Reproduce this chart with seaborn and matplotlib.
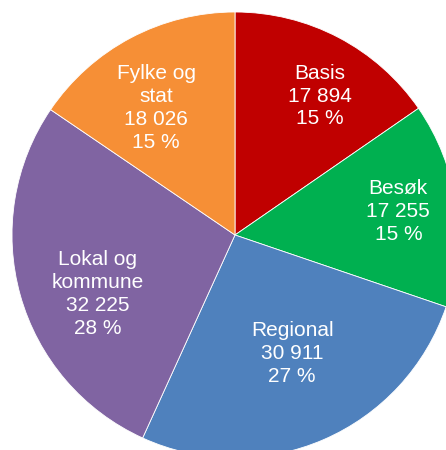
import matplotlib
matplotlib.use('Agg')
import matplotlib.pyplot as plt
import seaborn as sns
import numpy as np

sns.set_theme(style='white')
plt.rcParams['font.family'] = ['Liberation Sans', 'DejaVu Sans']

categories = ['Basis', 'Besøk', 'Regional', 'Lokal og\nkommune', 'Fylke og\nstat']
values = [17894, 17255, 30911, 32225, 18026]
colors = ['#C00000', '#00B050', '#4F81BD', '#8064A2', '#F68F36']
# label placement: distance from centre and angle shift from the wedge middle
label_radius = [0.73, 0.74, 0.59, 0.67, 0.67]
label_shift = [-3.8, 0.3, 2.4, 7.6, 3.9]

fig = plt.figure(figsize=(4.46, 4.5), dpi=100)
ax = fig.add_axes([0, 0, 1, 1])

r = 223
wedges, _ = ax.pie(values, colors=colors, startangle=90, counterclock=False,
                   radius=1, wedgeprops=dict(edgecolor='white', linewidth=0.6))

total = sum(values)
for w, cat, v, lr, sh in zip(wedges, categories, values, label_radius, label_shift):
    ang = np.deg2rad((w.theta1 + w.theta2) / 2 + sh)
    txt = f"{cat}\n{v:,}".replace(',', ' ') + f"\n{round(v / total * 100)} %"
    ax.text(lr * np.cos(ang), lr * np.sin(ang), txt, ha='center', va='center',
            color='white', fontsize=15, linespacing=1.25)

ax.set_aspect('auto')
ax.set_xlim(-235 / r, (446 - 235) / r)
ax.set_ylim(-(450 - 235) / r, 235 / r)
ax.axis('off')

fig.savefig('out.png', dpi=100)
